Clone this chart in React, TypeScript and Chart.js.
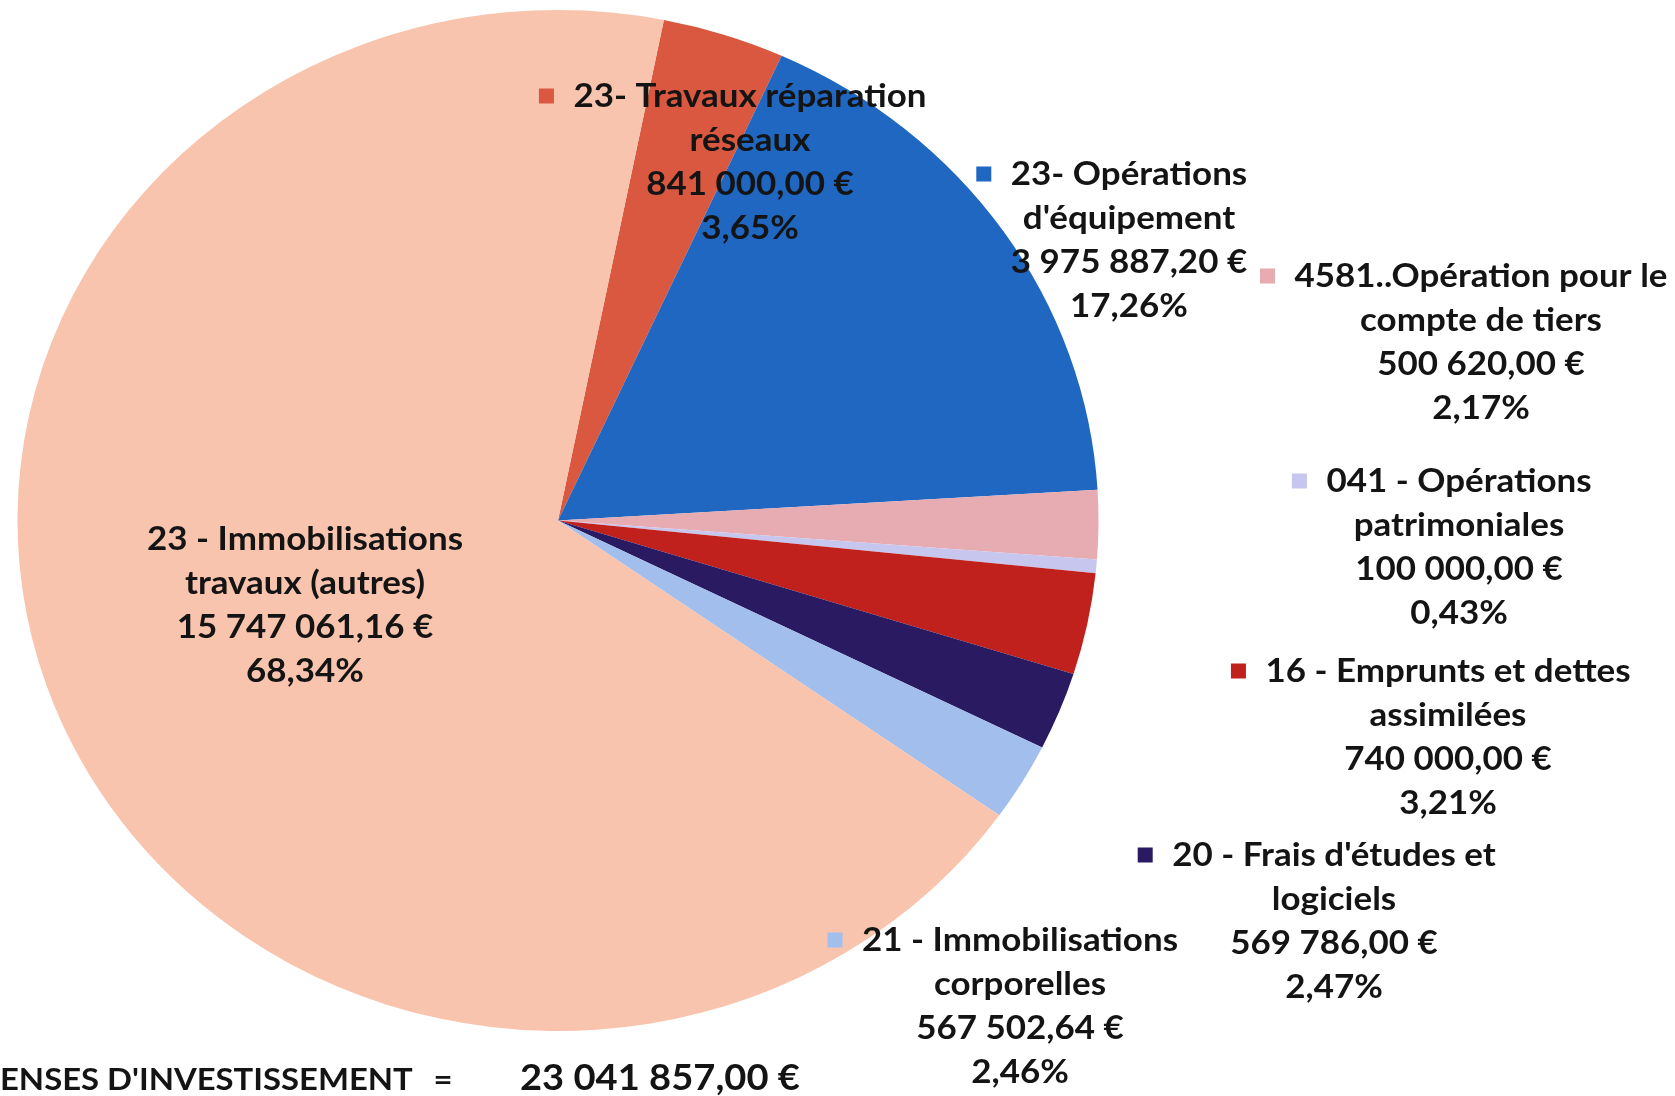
import React, { useEffect, useRef } from "react";
import { Chart, registerables } from "chart.js";

Chart.register(...registerables);

// ---- data ----
const categories: string[] = [
  "23- Travaux réparation\nréseaux",
  "23- Opérations\nd'équipement",
  "4581..Opération pour le\ncompte de tiers",
  "041 - Opérations\npatrimoniales",
  "16 - Emprunts et dettes\nassimilées",
  "20 - Frais d'études et\nlogiciels",
  "21 - Immobilisations\ncorporelles",
  "23 - Immobilisations\ntravaux (autres)",
];
const amounts: number[] = [
  841000.0, 3975887.2, 500620.0, 100000.0, 740000.0, 569786.0, 567502.64, 15747061.16,
];
const totalCaption = "ENSES D'INVESTISSEMENT";

// ---- styles / layout (not data) ----
const sliceColors = [
  "#D9583F",
  "#1F67C0",
  "#E7ABB2",
  "#C6C6EE",
  "#C1211D",
  "#2A1A62",
  "#A2BEEC",
  "#F8C4AE",
];
// label anchor: [centre x of text lines, y of first line], in page pixels
const labelAnchors: [number, number][] = [
  [750, 96],
  [1129, 174],
  [1481, 276],
  [1459, 481],
  [1448, 671],
  [1334, 855],
  [1020, 940],
  [305, 539],
];
const LINE_H = 44;
const FONT = "Lato";
const X_STRETCH = 540 / 510;
const INK = "#141414";

function fmtEuro(n: number): string {
  const [i, d] = n.toFixed(2).split(".");
  const grouped = i.replace(/\B(?=(\d{3})+(?!\d))/g, " ");
  return `${grouped},${d} €`;
}
function fmtPct(v: number, total: number): string {
  return ((v / total) * 100).toFixed(2).replace(".", ",") + "%";
}

function drawText(ctx: CanvasRenderingContext2D, t: string, x: number, y: number, align: CanvasTextAlign) {
  ctx.save();
  ctx.translate(x, y);
  ctx.scale(X_STRETCH, 1);
  ctx.textAlign = align;
  ctx.fillText(t, 0, 0);
  ctx.restore();
}

const stretchPlugin = {
  id: "stretch",
  beforeDatasetsDraw(chart: any) {
    const meta = chart.getDatasetMeta(0);
    const arc = meta.data[0];
    if (!arc) return;
    const { x, y } = arc;
    const ctx = chart.ctx;
    ctx.save();
    ctx.translate(x, y);
    ctx.scale(X_STRETCH, 1);
    ctx.translate(-x, -y);
  },
  afterDatasetsDraw(chart: any) {
    chart.ctx.restore();
  },
};

const labelsPlugin = {
  id: "pieLabels",
  afterDraw(chart: any) {
    const ctx: CanvasRenderingContext2D = chart.ctx;
    const total = amounts.reduce((a, b) => a + b, 0);
    ctx.save();
    ctx.fillStyle = INK;
    ctx.textBaseline = "middle";
    ctx.font = `bold 33px ${FONT}`;
    categories.forEach((cat, i) => {
      const [cx, y0] = labelAnchors[i];
      const lines = [...cat.split("\n"), fmtEuro(amounts[i]), fmtPct(amounts[i], total)];
      lines.forEach((ln, k) => {
        drawText(ctx, ln, cx, y0 + k * LINE_H, "center");
      });
      // legend key square to the left of first line
      const w0 = ctx.measureText(lines[0]).width * X_STRETCH;
      const startX = cx - w0 / 2;
      ctx.fillStyle = sliceColors[i];
      ctx.fillRect(startX - 27 - 7.5, y0 - 7.5, 15, 15);
      ctx.fillStyle = INK;
    });
    // bottom caption
    ctx.font = `bold 31px ${FONT}`;
    drawText(ctx, totalCaption, 0, 1080, "left");
    drawText(ctx, "=", 443, 1080, "center");
    ctx.font = `bold 36px ${FONT}`;
    drawText(ctx, fmtEuro(total), 520, 1078, "left");
    ctx.restore();
  },
};

export default function App() {
  const ref = useRef<HTMLCanvasElement | null>(null);
  useEffect(() => {
    let chart: Chart | null = null;
    let cancelled = false;
    const make = () => {
      if (cancelled || !ref.current) return;
      chart = new Chart(ref.current, {
        type: "pie",
        data: {
          labels: categories.map((c) => c.replace("\n", " ")),
          datasets: [
            {
              data: amounts,
              backgroundColor: sliceColors,
              borderWidth: 0,
            },
          ],
        },
        options: {
          responsive: false,
          animation: false,
          devicePixelRatio: 1,
          rotation: 11.3,
          layout: { padding: { left: 0, right: 559, top: 10, bottom: 65 } },
          plugins: {
            legend: { display: false },
            tooltip: { enabled: false },
          },
        },
        plugins: [stretchPlugin, labelsPlugin],
      } as any);
    };
    const fontsReady = (document as any).fonts
      ? Promise.all([
          (document as any).fonts.load(`bold 33px ${FONT}`),
          (document as any).fonts.load(`bold 36px ${FONT}`),
        ]).catch(() => null)
      : Promise.resolve(null);
    fontsReady.then(make);
    return () => {
      cancelled = true;
      if (chart) chart.destroy();
    };
  }, []);
  return (
    <div style={{ position: "absolute", left: 0, top: 0, width: 1675, height: 1096, background: "#fff" }}>
      <canvas ref={ref} width={1675} height={1096} style={{ width: 1675, height: 1096, display: "block" }} />
    </div>
  );
}
